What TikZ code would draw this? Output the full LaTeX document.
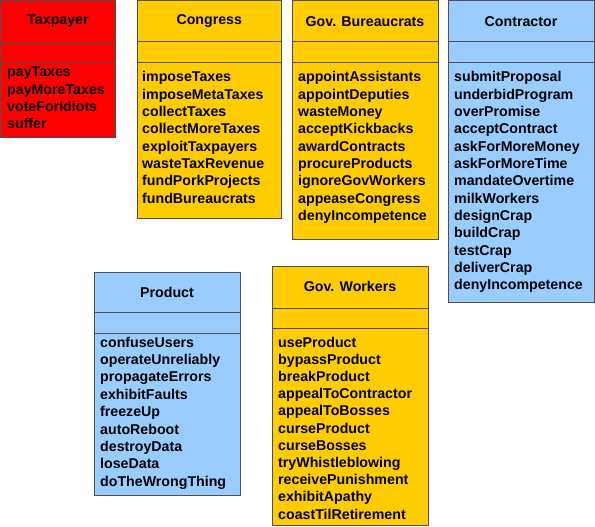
\documentclass[tikz,border=0pt]{standalone}
\usepackage{fontspec}
\setmainfont{Liberation Sans}
\usepackage{xcolor}
\usepackage{tikz}
\usetikzlibrary{positioning}

\definecolor{taxred}{HTML}{FF0000}
\definecolor{govgold}{HTML}{FFCC00}
\definecolor{firmblue}{HTML}{99CCFF}
\definecolor{edgegray}{HTML}{505050}

\tikzset{
  classbox/.style={draw=edgegray, line width=1pt},
  classtitle/.style={inner sep=0pt, font=\fontsize{14.2}{17}\selectfont\bfseries},
  classop/.style={inner sep=0pt, anchor=base west, font=\fontsize{14.2}{17}\selectfont\bfseries}
}

\begin{document}
\begin{tikzpicture}[x=1pt, y=-1pt]
\useasboundingbox (0,0) rectangle (595,527);
% Taxpayer
\begin{scope}[shift={(0.5,0.5)}]
\draw[classbox, fill=taxred] (0,0) rectangle (115,136.5);
\draw[classbox] (0,42.5) -- (115,42.5);
\draw[classbox] (0,62) -- (115,62);
\node[classtitle] (taxpayer) at (57.5,21) {Taxpayer};
\foreach \op [count=\i] in {payTaxes, payMoreTaxes, voteForIdiots, suffer}
  \node[classop] (taxpayer-\i) at (6.5,{76.5+17.3*(\i-1)}) {\op};
\end{scope}
% Congress
\begin{scope}[shift={(137,0.5)}]
\draw[classbox, fill=govgold] (0,0) rectangle (144.5,218);
\draw[classbox] (0,41.5) -- (144.5,41.5);
\draw[classbox] (0,62.5) -- (144.5,62.5);
\node[classtitle] (congress) at (72.25,21) {Congress};
\foreach \op [count=\i] in {imposeTaxes, imposeMetaTaxes, collectTaxes, collectMoreTaxes,
    exploitTaxpayers, wasteTaxRevenue, fundPorkProjects, fundBureaucrats}
  \node[classop] (congress-\i) at (5,{81.5+17.3*(\i-1)}) {\op};
\end{scope}
% Gov. Bureaucrats
\begin{scope}[shift={(292,0.5)}]
\draw[classbox, fill=govgold] (0,0) rectangle (146,238.5);
\draw[classbox] (0,41.5) -- (146,41.5);
\draw[classbox] (0,62.5) -- (146,62.5);
\node[classtitle] (bureaucrats) at (73,21) {Gov. Bureaucrats};
\foreach \op [count=\i] in {appointAssistants, appointDeputies, wasteMoney, acceptKickbacks,
    awardContracts, procureProducts, ignoreGovWorkers, appeaseCongress, denyIncompetence}
  \node[classop] (bureaucrats-\i) at (6,{81.5+17.3*(\i-1)}) {\op};
\end{scope}
% Contractor
\begin{scope}[shift={(448,0.5)}]
\draw[classbox, fill=firmblue] (0,0) rectangle (146,301.5);
\draw[classbox] (0,41.5) -- (146,41.5);
\draw[classbox] (0,62.5) -- (146,62.5);
\node[classtitle] (contractor) at (73,21) {Contractor};
\foreach \op [count=\i] in {submitProposal, underbidProgram, overPromise, acceptContract,
    askForMoreMoney, askForMoreTime, mandateOvertime, milkWorkers, designCrap,
    buildCrap, testCrap, deliverCrap, denyIncompetence}
  \node[classop] (contractor-\i) at (6,{81.5+17.3*(\i-1)}) {\op};
\end{scope}
% Product
\begin{scope}[shift={(94,272)}]
\draw[classbox, fill=firmblue] (0,0) rectangle (146,223);
\draw[classbox] (0,40) -- (146,40);
\draw[classbox] (0,61) -- (146,61);
\node[classtitle] (product) at (73,20) {Product};
\foreach \op [count=\i] in {confuseUsers, operateUnreliably, propagateErrors, exhibitFaults,
    freezeUp, autoReboot, destroyData, loseData, doTheWrongThing}
  \node[classop] (product-\i) at (6,{75+17.4*(\i-1)}) {\op};
\end{scope}
% Gov. Workers
\begin{scope}[shift={(272,266)}]
\draw[classbox, fill=govgold] (0,0) rectangle (156,259.5);
\draw[classbox] (0,42) -- (156,42);
\draw[classbox] (0,62) -- (156,62);
\node[classtitle] (workers) at (78,20) {Gov. Workers};
\foreach \op [count=\i] in {useProduct, bypassProduct, breakProduct, appealToContractor,
    appealToBosses, curseProduct, curseBosses, tryWhistleblowing, receivePunishment,
    exhibitApathy, coastTilRetirement}
  \node[classop] (workers-\i) at (6,{81+17.2*(\i-1)}) {\op};
\end{scope}
\end{tikzpicture}
\end{document}
